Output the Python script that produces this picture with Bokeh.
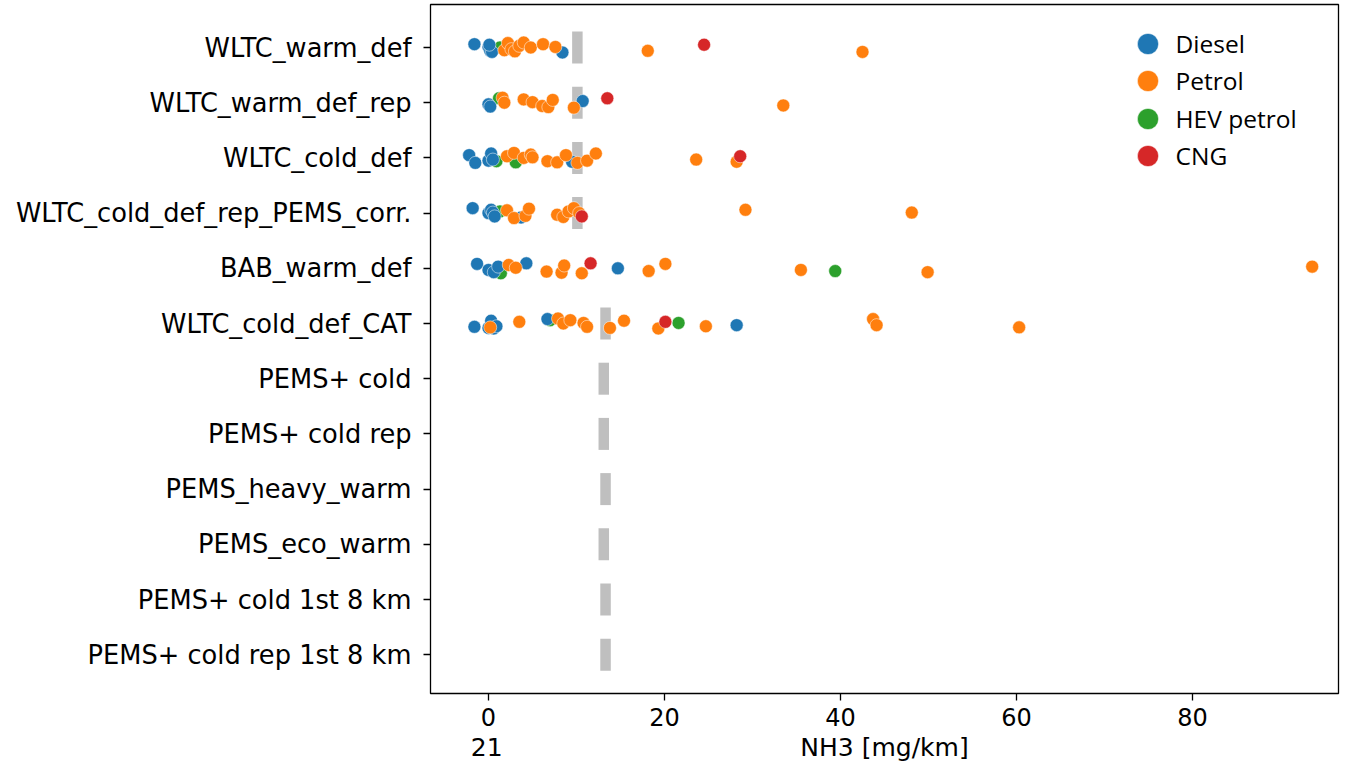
from bokeh.plotting import figure
from bokeh.models import Range1d, FixedTicker, Legend, LegendItem, LinearAxis, ColumnDataSource
from bokeh.embed import file_html
from bokeh.resources import INLINE

# ---------------- data ----------------
categories = [
    "WLTC_warm_def",
    "WLTC_warm_def_rep",
    "WLTC_cold_def",
    "WLTC_cold_def_rep_PEMS_corr.",
    "BAB_warm_def",
    "WLTC_cold_def_CAT",
    "PEMS+ cold",
    "PEMS+ cold rep",
    "PEMS_heavy_warm",
    "PEMS_eco_warm",
    "PEMS+ cold 1st 8 km",
    "PEMS+ cold rep 1st 8 km",
]

# grey reference marker per test (None = not shown)
limit_values = [10.1, 10.1, 10.1, 10.1, None, 13.3, 13.1, 13.1, 13.3, 13.1, 13.3, 13.3]

fuel_types = ["Diesel", "Petrol", "HEV petrol", "CNG"]
fuel_colors = ["#1f77b4", "#ff7f0e", "#2ca02c", "#d62728"]

diesel = {
    "WLTC_warm_def": [-1.6, 0.0, 0.2, 0.4, 0.1, 8.4],
    "WLTC_warm_def_rep": [0.0, 0.2, 10.7],
    "WLTC_cold_def": [-2.2, -1.5, 0.0, 0.3, 0.5, 9.5],
    "WLTC_cold_def_rep_PEMS_corr.": [-1.8, 0.0, 0.3, 0.5, 0.7, 3.7],
    "BAB_warm_def": [-1.3, 0.0, 0.6, 1.1, 4.3, 14.7],
    "WLTC_cold_def_CAT": [-1.6, 0.0, 0.3, 0.6, 0.9, 6.7, 28.2],
}
petrol = {
    "WLTC_warm_def": [1.8, 2.2, 2.6, 3.0, 3.5, 4.0, 4.8, 6.2, 7.6, 18.1, 42.5],
    "WLTC_warm_def_rep": [1.6, 1.8, 4.0, 5.0, 6.1, 6.8, 7.3, 9.7, 33.5],
    "WLTC_cold_def": [2.1, 2.9, 4.0, 4.8, 5.0, 6.7, 7.8, 8.8, 10.1, 11.2, 12.2, 23.6, 28.2],
    "WLTC_cold_def_rep_PEMS_corr.": [2.1, 2.9, 4.2, 4.6, 7.8, 8.5, 9.1, 9.7, 10.3, 29.2, 48.1],
    "BAB_warm_def": [2.3, 3.1, 6.6, 8.3, 8.6, 10.6, 18.2, 20.1, 35.5, 49.9, 93.6],
    "WLTC_cold_def_CAT": [0.2, 3.5, 7.9, 8.5, 9.3, 10.8, 11.2, 13.8, 15.4, 19.3, 24.7, 43.7, 44.1, 60.3],
}
hev_petrol = {
    "WLTC_warm_def": [1.3],
    "WLTC_warm_def_rep": [1.2],
    "WLTC_cold_def": [0.9, 3.1],
    "WLTC_cold_def_rep_PEMS_corr.": [1.3],
    "BAB_warm_def": [1.4, 39.4],
    "WLTC_cold_def_CAT": [7.0, 21.6],
}
cng = {
    "WLTC_warm_def": [24.5],
    "WLTC_warm_def_rep": [13.5],
    "WLTC_cold_def": [28.6],
    "WLTC_cold_def_rep_PEMS_corr.": [10.6],
    "BAB_warm_def": [11.6],
    "WLTC_cold_def_CAT": [20.1],
}

x_ticks = [0, 20, 40, 60, 80]
x_label = "NH3 [mg/km]"
page_number = "21"

# ---------------- styling helpers ----------------
JITTER = [0.0, -0.08, 0.06, -0.03, 0.09, -0.06, 0.03, 0.08, -0.09, 0.05, -0.01, 0.07, -0.05]
row_counter = {c: 0 for c in categories}

def strip_source(d):
    xs, ys = [], []
    for cat, vals in d.items():
        row = categories.index(cat)
        for v in vals:
            k = row_counter[cat]
            row_counter[cat] += 1
            xs.append(v)
            ys.append(row + JITTER[(k * 5 + row) % len(JITTER)])
    return ColumnDataSource(data=dict(x=xs, y=ys))

FRAME_L, FRAME_R, FRAME_T, FRAME_B = 430, 1338, 4, 693
W, H = 1340, 768
PX_PER_UNIT, ZERO_PX = 8.8, 488
ROW0_PX, ROW_PX = 47, 55.2

p = figure(
    width=W, height=H,
    x_range=Range1d((FRAME_L - ZERO_PX) / PX_PER_UNIT, (FRAME_R - ZERO_PX) / PX_PER_UNIT),
    y_range=Range1d((FRAME_B - ROW0_PX) / ROW_PX, (FRAME_T - ROW0_PX) / ROW_PX),
    output_backend="svg", toolbar_location=None,
    min_border_left=FRAME_L, min_border_right=W - FRAME_R,
    min_border_top=FRAME_T, min_border_bottom=H - FRAME_B,
)
p.grid.visible = False
p.outline_line_color = "black"
p.outline_line_width = 1.3
p.background_fill_color = "white"
p.border_fill_color = "white"

# grey reference markers
lim_x = [v for v in limit_values if v is not None]
lim_y = [i for i, v in enumerate(limit_values) if v is not None]
p.rect(x=lim_x, y=lim_y, width=10.5, height=32, width_units="screen", height_units="screen",
       fill_color="#bfbfbf", line_color=None)

data_by_fuel = {"Diesel": diesel, "Petrol": petrol, "HEV petrol": hev_petrol, "CNG": cng}
color_by_fuel = dict(zip(fuel_types, fuel_colors))
renderers = {}
for fuel in ["HEV petrol", "Diesel", "Petrol", "CNG"]:
    src = strip_source(data_by_fuel[fuel])
    renderers[fuel] = p.scatter("x", "y", source=src, size=13, marker="circle",
                                fill_color=color_by_fuel[fuel], line_color="white", line_width=0.5)

# legend: one single-item legend per fuel so markers can be large while rows stay close
LEG_GLYPH = 53          # marker drawn at 0.4 * glyph box -> ~21 px
LEG_X = 1147            # marker centre
LEG_Y0, LEG_DY = 43, 37.5
for i, fuel in enumerate(fuel_types):
    centre = LEG_Y0 + LEG_DY * i
    leg = Legend(
        items=[LegendItem(label=fuel, renderers=[renderers[fuel]])],
        location=(LEG_X - LEG_GLYPH / 2 - FRAME_L, FRAME_B - (centre + LEG_GLYPH / 2)),
        glyph_width=LEG_GLYPH, glyph_height=LEG_GLYPH, label_height=30,
        padding=0, margin=0, label_standoff=2, spacing=0,
        border_line_color=None, background_fill_alpha=0,
        label_text_font="Open Sans", label_text_font_size="24.5px", label_text_color="black",
    )
    p.add_layout(leg)

# main x axis: ticks and tick labels
p.xaxis.ticker = FixedTicker(ticks=x_ticks)
p.xaxis.major_label_text_font = "DejaVu Sans"
p.xaxis.major_label_text_font_size = "24px"
p.xaxis.major_label_standoff = 7

p.yaxis.ticker = FixedTicker(ticks=list(range(len(categories))))
p.yaxis.major_label_overrides = {i: c for i, c in enumerate(categories)}
p.yaxis.major_label_text_font = "DejaVu Sans"
p.yaxis.major_label_text_font_size = "25.7px"
p.yaxis.major_label_standoff = 12

for ax in (p.xaxis, p.yaxis):
    ax.axis_line_color = None
    ax.major_tick_line_color = "black"
    ax.major_tick_line_width = 1.3
    ax.major_tick_out = 7
    ax.major_tick_in = 0
    ax.minor_tick_line_color = None
    ax.major_label_text_color = "black"

# second text row below the axis: page number at the left, axis title at the centre
x_mid = (p.x_range.start + p.x_range.end) / 2
page_pos = -0.2
caption_axis = LinearAxis(
    ticker=FixedTicker(ticks=[page_pos, round(x_mid, 2)]),
    major_label_overrides={page_pos: page_number, round(x_mid, 2): x_label},
    axis_line_color=None, major_tick_line_color=None, minor_tick_line_color=None,
    major_tick_out=0, major_tick_in=0, major_label_standoff=4,
    major_label_text_font="DejaVu Sans", major_label_text_font_size="25px",
    major_label_text_color="black",
)
p.add_layout(caption_axis, "below")

open("out.html", "w").write(file_html(p, INLINE))
